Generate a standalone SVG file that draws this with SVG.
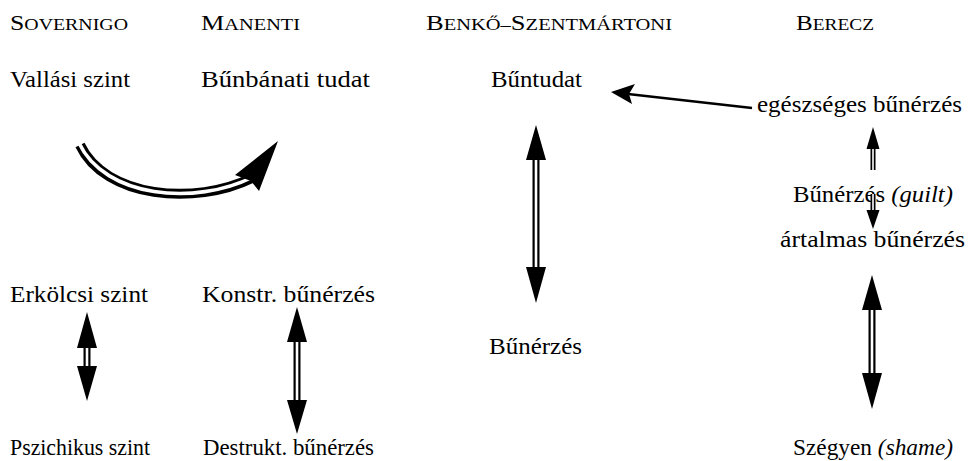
<svg xmlns="http://www.w3.org/2000/svg" width="968" height="461" viewBox="0 0 968 461">
<style>
.t{font-family:"Liberation Serif","Times New Roman",serif;font-size:24px;fill:#000}
.h{font-family:"Liberation Serif","Times New Roman",serif;font-size:17px;fill:#000}
.cap{font-size:22px}
.i{font-style:italic}
.so{fill:none;stroke:#000;stroke-width:7}
.si{fill:none;stroke:#fff;stroke-width:2.6}
.so2{fill:none;stroke:#000;stroke-width:5}
.si2{fill:none;stroke:#fff;stroke-width:1.6}
.co{fill:none;stroke:#000;stroke-width:10}
.ci{fill:none;stroke:#fff;stroke-width:3.6}
.hd{fill:#000}
.ln{fill:none;stroke:#000;stroke-width:2.5}
</style>
<rect width="968" height="461" fill="#fff"/>
<g id="headers">
<g id="h-sovernigo"><text class="h" x="10" y="30" textLength="118" lengthAdjust="spacingAndGlyphs"><tspan class="cap">S</tspan>OVERNIGO</text></g>
<g id="h-manenti"><text class="h" x="201" y="30" textLength="99" lengthAdjust="spacingAndGlyphs"><tspan class="cap">M</tspan>ANENTI</text></g>
<g id="h-benko"><text class="h" x="426" y="30" textLength="246" lengthAdjust="spacingAndGlyphs"><tspan class="cap">B</tspan>ENKŐ–<tspan class="cap">S</tspan>ZENTMÁRTONI</text></g>
<g id="h-berecz"><text class="h" x="796" y="30" textLength="78" lengthAdjust="spacingAndGlyphs"><tspan class="cap">B</tspan>ERECZ</text></g>
</g>
<g id="n-vallasi"><text class="t" x="10" y="87" textLength="120" lengthAdjust="spacingAndGlyphs">Vallási szint</text></g>
<g id="n-bunbanati"><text class="t" x="201" y="87" textLength="169" lengthAdjust="spacingAndGlyphs">Bűnbánati tudat</text></g>
<g id="n-buntudat"><text class="t" x="491" y="87" textLength="91" lengthAdjust="spacingAndGlyphs">Bűntudat</text></g>
<g id="n-egeszseges"><text class="t" x="757" y="112" textLength="205" lengthAdjust="spacingAndGlyphs">egészséges bűnérzés</text></g>
<g id="n-guilt"><text class="t" x="793" y="202" textLength="160" lengthAdjust="spacingAndGlyphs">Bűnérzés <tspan class="i">(guilt)</tspan></text></g>
<g id="n-artalmas"><text class="t" x="780" y="247" textLength="185" lengthAdjust="spacingAndGlyphs">ártalmas bűnérzés</text></g>
<g id="n-erkolcsi"><text class="t" x="10" y="302" textLength="138" lengthAdjust="spacingAndGlyphs">Erkölcsi szint</text></g>
<g id="n-konstr"><text class="t" x="202" y="302" textLength="173" lengthAdjust="spacingAndGlyphs">Konstr. bűnérzés</text></g>
<g id="n-bunerzes"><text class="t" x="489" y="354" textLength="93" lengthAdjust="spacingAndGlyphs">Bűnérzés</text></g>
<g id="n-pszichikus"><text class="t" x="10" y="455" textLength="140" lengthAdjust="spacingAndGlyphs">Pszichikus szint</text></g>
<g id="n-destrukt"><text class="t" x="203" y="455" textLength="171" lengthAdjust="spacingAndGlyphs">Destrukt. bűnérzés</text></g>
<g id="n-szegyen"><text class="t" x="793" y="455" textLength="160" lengthAdjust="spacingAndGlyphs">Szégyen <tspan class="i">(shame)</tspan></text></g>
<g id="connectors">
<path class="co" d="M80,145 C105,198 195,206 252,178"/>
<path class="ci" d="M79,143 C105,198 195,206 253,177"/>
<path class="hd" d="M278,141 L259,191 L251,181 L235,175 Z"/>
<line class="ln" x1="752" y1="108" x2="628" y2="94"/>
<path class="hd" d="M611,92 L635,84 L629,94 L632,104 Z"/>
<path class="so" d="M87,345 V369"/><path class="si" d="M87,344 V370"/>
<path class="hd" d="M87,312 L97,348 L77,348 Z M87,401 L97,366 L77,366 Z"/>
<path class="so" d="M297,339 V403"/><path class="si" d="M297,338 V404"/>
<path class="hd" d="M297,307 L307,342 L287,342 Z M297,434 L307,400 L287,400 Z"/>
<path class="so" d="M536,157 V270"/><path class="si" d="M536,156 V271"/>
<path class="hd" d="M536,125 L546,160 L526,160 Z M536,303 L546,267 L526,267 Z"/>
<path class="so" d="M872,307 V376"/><path class="si" d="M872,306 V377"/>
<path class="hd" d="M872,275 L882,310 L862,310 Z M872,409 L882,373 L862,373 Z"/>
<path class="so2" d="M873,147 V170"/><path class="si2" d="M873,146 V170"/>
<path class="hd" d="M873,127 L879.5,149 L866.5,149 Z"/>
<path class="so2" d="M873,194 V212"/><path class="si2" d="M873,194 V213"/>
<path class="hd" d="M873,229 L879.5,210 L866.5,210 Z"/>
</g>
</svg>
